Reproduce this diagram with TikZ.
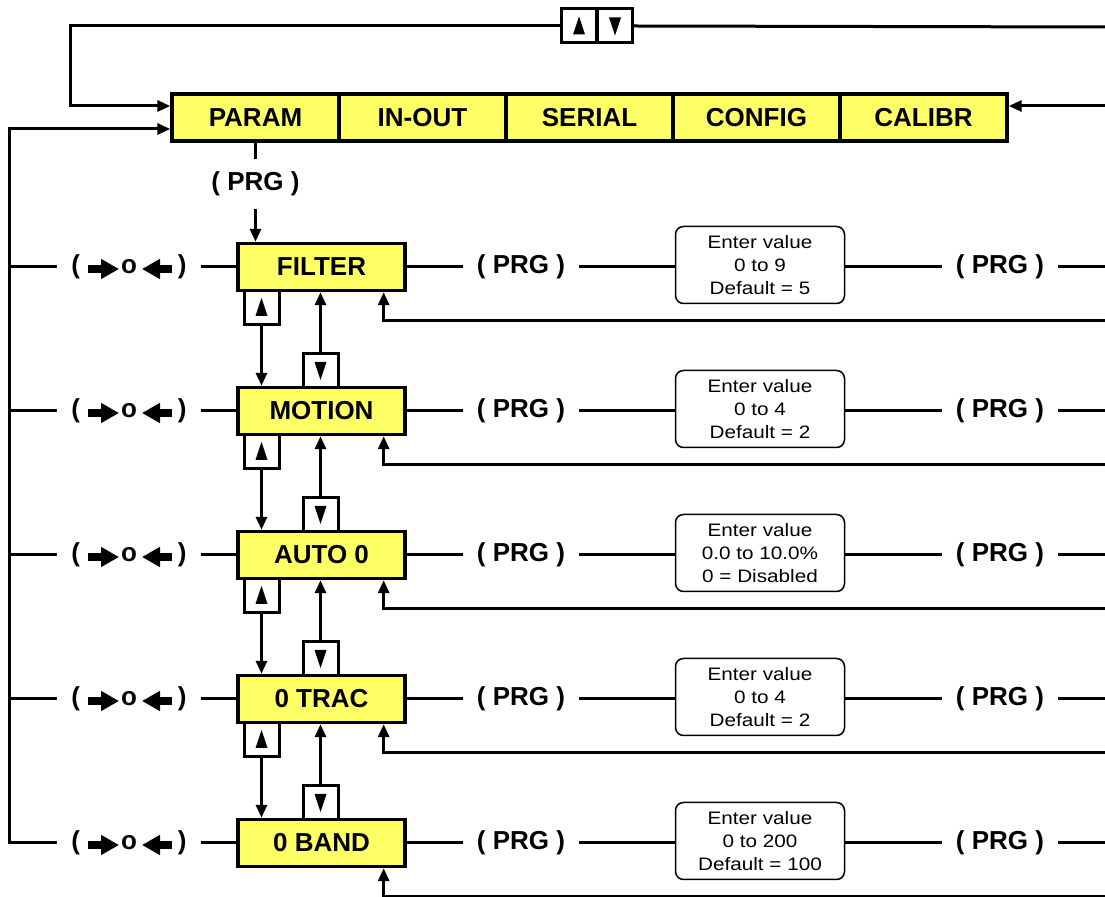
\documentclass[tikz,border=0pt]{standalone}
\usepackage{fontspec}
\setmainfont{Liberation Sans}
\newfontfamily\valuefont[FakeStretch=1.15]{Liberation Sans}
\usetikzlibrary{arrows.meta,calc,positioning}
\definecolor{keyyellow}{RGB}{255,255,102}
\tikzset{
  >={Triangle[length=6.5pt,width=5.5pt]},
  wire/.style={line width=1.5pt},
  menubox/.style={draw, line width=1.7pt, fill=keyyellow, minimum width=83.5pt,
    minimum height=23.5pt, inner sep=0pt, font=\fontsize{13}{15}\selectfont\bfseries},
  valuebox/.style={draw, line width=0.75pt, rounded corners=4pt, minimum width=84.5pt,
    minimum height=38.5pt, inner sep=0pt, align=center,
    font=\valuefont\fontsize{9}{11.5}\selectfont},
  keybox/.style={draw, line width=1.5pt, fill=white, minimum width=17.5pt,
    minimum height=17pt, inner sep=0pt},
  prglabel/.style={inner xsep=7pt, inner ysep=6pt, font=\fontsize{13}{15}\selectfont\bfseries},
  zeroarrow/.style={line width=3.6pt, -{Triangle[length=9pt,width=9.5pt]}},
  keyup/.pic={\fill (0,-9.5) -- (6,8.5) -- (-6,8.5) -- cycle;},
  keydown/.pic={\fill (0,9.5) -- (6,-8.5) -- (-6,-8.5) -- cycle;}
}
\begin{document}
\begin{tikzpicture}[x=0.5pt, y=-0.5pt]
  \useasboundingbox (0,0) rectangle (1105,897);

  % menu bar
  \foreach \name/\txt [count=\k from 0] in {param/PARAM, inout/IN-OUT, serial/SERIAL, config/CONFIG, calibr/CALIBR}
    \node[menubox] (\name) at (255.5+167*\k,117.5) {\txt};

  \node[keybox] (topup) at (579,26) {};
  \node[keybox] (topdn) at (615,26) {};
  \pic at (topup) {keyup};
  \pic at (topdn) {keydown};

  \coordinate (tl) at (70,106);
  \coordinate (te) at (1105,27);
  \coordinate (ce) at (1105,106);
  \coordinate (ol) at (9,129);
  \draw[wire,->] (topup.west) -| (tl) -- (tl -| param.west);
  \draw[wire] (topdn.east) -- (te);
  \draw[wire,->] (ce) -- (ce -| calibr.east);

  \node[prglabel] (prg) at (255.5,184) {( PRG )};

  % parameter rows
  \foreach \txt/\lo/\hi [count=\i from 0] in {FILTER/0 to 9/Default = 5,
      MOTION/0 to 4/Default = 2, AUTO 0/0.0 to 10.0\%/0 = Disabled,
      0 TRAC/0 to 4/Default = 2, 0 BAND/0 to 200/Default = 100}{
    \pgfmathsetmacro{\y}{267+144*\i}
    \node[menubox] (r\i) at (321.5,\y) {\txt};
    \node[prglabel] (z\i) at (129,\y) {(\hspace{20.5pt}o\hspace{20.5pt})};
    \node[prglabel] (p\i) at (521,\y) {( PRG )};
    \node[valuebox] (v\i) at (760,\y-2) {Enter value\\\lo\\\hi};
    \node[prglabel] (q\i) at (1000,\y) {( PRG )};
    \coordinate (e\i) at (1105,\y);
    \coordinate (f\i) at (1105,\y+54);

    \draw[zeroarrow] ($(z\i)+(-41,2)$) -- ($(z\i)+(-10,2)$);
    \draw[zeroarrow] ($(z\i)+(43,2)$) -- ($(z\i)+(13,2)$);

    \draw[wire] (z\i.east) -- (r\i.west);
    \draw[wire] (r\i.east) -- (p\i.west);
    \draw[wire] (p\i.east) -- (p\i.east -| v\i.west);
    \draw[wire] (q\i.west -| v\i.east) -- (q\i.west);
    \draw[wire] (q\i.east) -- (e\i);
    \draw[wire,->] (f\i) -| ($(r\i.south east)+(-23,0)$);
    \ifnum\i<4 \draw[wire] (z\i.west) -- (z\i.west -| ol); \fi
  }

  \draw[wire] (param.south) -- (prg.north);
  \draw[wire,->] (prg.south) -- (prg.south |- r0.north);
  \draw[wire,->] (z4.west) -| (ol) -- (ol -| param.west);

  % up / down keys between rows
  \foreach \i [evaluate=\i as \j using int(\i+1)] in {0,...,3}{
    \pgfmathsetmacro{\y}{267+144*\i}
    \node[keybox] (u\i) at (261.5,\y+40.5) {};
    \node[keybox] (d\i) at (320.5,\y+103.5) {};
    \pic at (u\i) {keyup};
    \pic at (d\i) {keydown};
    \draw[wire,->] (u\i.south) -- (u\i.south |- r\j.north);
    \draw[wire,->] (d\i.north) -- (d\i.north |- r\i.south);
  }
\end{tikzpicture}
\end{document}
